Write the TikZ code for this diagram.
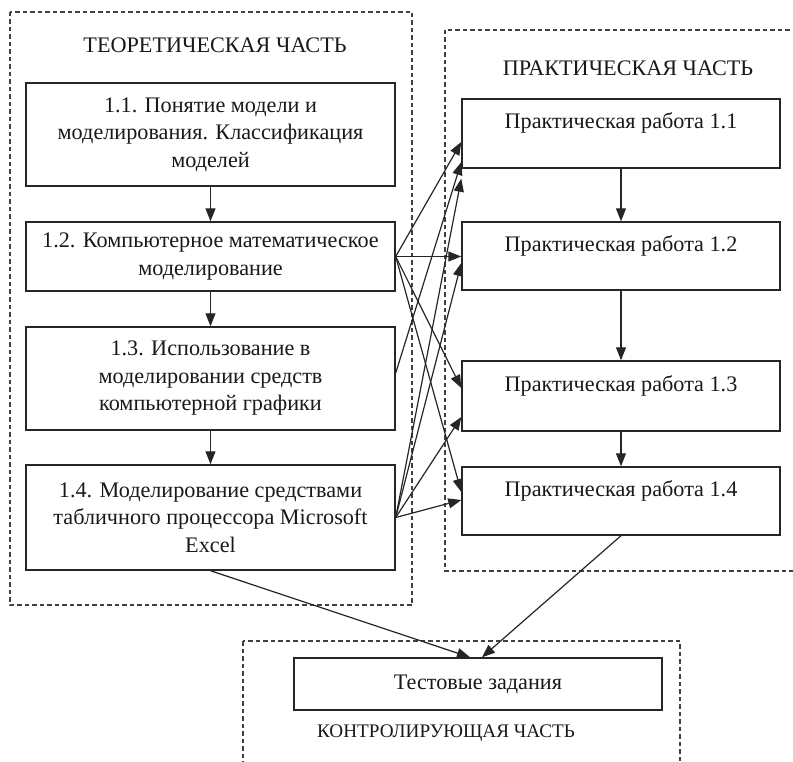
\documentclass[tikz,border=0pt]{standalone}
\usepackage{fontspec}
\setmainfont{Liberation Serif}
\usetikzlibrary{arrows.meta}
\begin{document}
\begin{tikzpicture}[x=1pt,y=-1pt,
  font=\fontsize{22.2}{27.5}\selectfont,
  box/.style={draw=black!85,line width=1.4pt,align=center,inner sep=2pt,text=black!90},
  lbox/.style={box,minimum width=369pt},
  pbox/.style={box,minimum width=318pt,text depth=25pt},
  zone/.style={draw=black!75,line width=1.2pt,dash pattern=on 4.5pt off 3pt},
  title/.style={inner sep=0pt,text=black!90},
  arr/.style={draw=black!85,line width=1.2pt,-{Triangle[length=13pt,width=10pt]}}]
\clip (0,0) rectangle (793,762);
\fill[white] (0,0) rectangle (793,762);
% zones
\draw[zone] (10,12) rectangle (412,605);
\draw[zone] (445,30) rectangle (800,571);
\draw[zone] (243,641) rectangle (680,775);
\node[title] (tt) at (215,45) {ТЕОРЕТИЧЕСКАЯ ЧАСТЬ};
\node[title] (tp) at (628,68) {ПРАКТИЧЕСКАЯ ЧАСТЬ};
\node[title,font=\fontsize{19.2}{24}\selectfont] (tk) at (446,733) {КОНТРОЛИРУЮЩАЯ ЧАСТЬ};
% left boxes
\node[lbox,minimum height=103pt] (b11) at (210.5,134.5) {1.1. Понятие модели и\\моделирования. Классификация\\моделей};
\node[lbox,minimum height=69pt] (b12) at (210.5,256.5) {1.2. Компьютерное математическое\\моделирование};
\node[lbox,minimum height=103pt] (b13) at (210.5,378.5) {1.3. Использование в\\моделировании средств\\компьютерной графики};
\node[lbox,minimum height=105pt] (b14) at (210.5,517.5) {1.4. Моделирование средствами\\табличного процессора Microsoft\\Excel};
% right boxes
\node[pbox,minimum height=69pt] (p11) at (621,133.5) {Практическая работа 1.1};
\node[pbox,minimum height=68pt] (p12) at (621,256) {Практическая работа 1.2};
\node[pbox,minimum height=70pt] (p13) at (621,396) {Практическая работа 1.3};
\node[pbox,minimum height=68pt] (p14) at (621,501) {Практическая работа 1.4};
% test
\node[box,minimum width=368pt,minimum height=52pt] (tz) at (478,684) {Тестовые задания};
% vertical arrows
\draw[arr] (b11) -- (b12);
\draw[arr] (b12) -- (b13);
\draw[arr] (b13) -- (b14);
\draw[arr] (p11) -- (p12);
\draw[arr] (p12) -- (p13);
\draw[arr] (p13) -- (p14);
% cross arrows
\coordinate (s13) at ([yshift=5.5pt]b13.east);
\coordinate (p11low) at ([yshift=-10pt]p11.south west);
\draw[arr] (b12.east) -- ([yshift=-8.5pt]p11.west);
\draw[arr] (b12.east) -- (b12.east -| p12.west);
\draw[arr] (b12.east) -- ([yshift=8pt]p13.west);
\draw[arr] (b12.east) -- ([yshift=9pt]p14.west);
\draw[arr] (s13) -- ([yshift=-28.5pt]p11.west);
\draw[arr] (b14.east) -- (p11low);
\draw[arr] (b14.east) -- ([yshift=-7pt]p12.west);
\draw[arr] (b14.east) -- ([yshift=-21pt]p13.west);
\draw[arr] (b14.east) -- ([yshift=1pt]p14.west);
% to test
\draw[arr] (b14.south) -- ([xshift=-8pt]tz.north);
\draw[arr] (p14.south) -- ([xshift=4pt]tz.north);
\end{tikzpicture}
\end{document}
